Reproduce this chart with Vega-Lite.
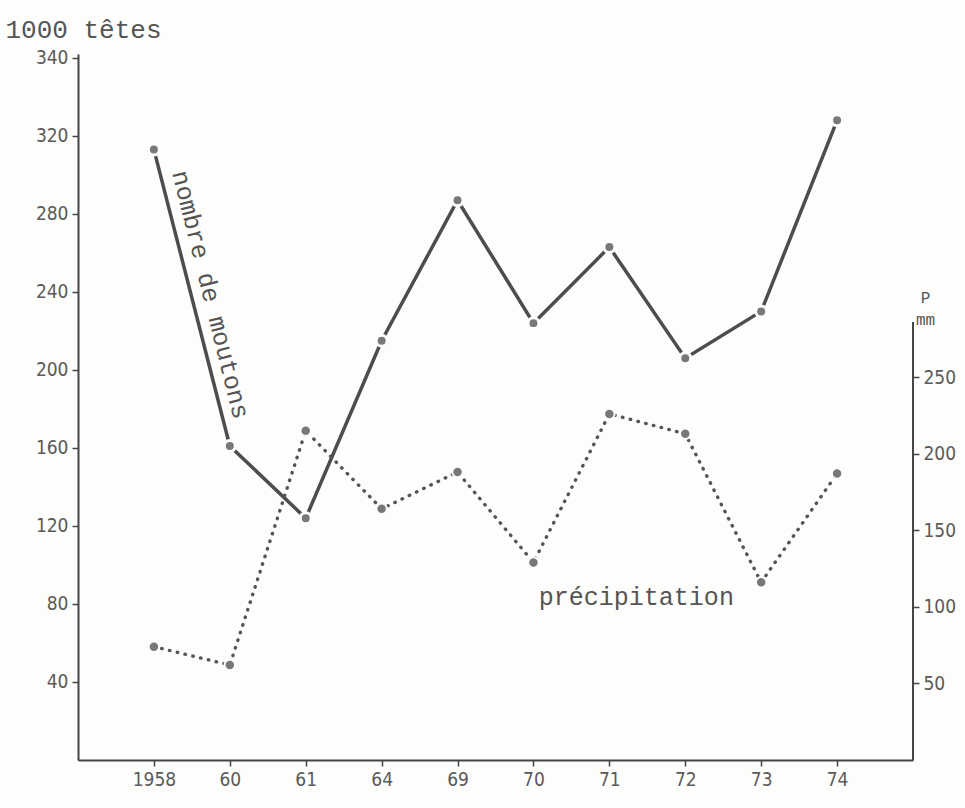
{
  "$schema": "https://vega.github.io/schema/vega-lite/v6.json",
  "width": 835,
  "height": 706,
  "autosize": {"type": "none"},
  "padding": {"left": 78, "top": 54, "right": 52, "bottom": 48},
  "background": "#fdfdfb",
  "config": {
    "view": {"stroke": null},
    "axis": {
      "grid": false,
      "domainColor": "#454545",
      "domainWidth": 2,
      "tickColor": "#454545",
      "tickWidth": 1.5,
      "labelFont": "Liberation Sans Narrow, DejaVu Sans Condensed, sans-serif",
      "labelFontSize": 19,
      "labelColor": "#5a5a5a",
      "titleFont": "Liberation Mono",
      "titleColor": "#555555",
      "titleFontWeight": "normal"
    }
  },
  "datasets": {
    "moutons": [
      {"annee": "1958", "moutons": 313},
      {"annee": "60", "moutons": 161},
      {"annee": "61", "moutons": 124},
      {"annee": "64", "moutons": 215},
      {"annee": "69", "moutons": 287},
      {"annee": "70", "moutons": 224},
      {"annee": "71", "moutons": 263},
      {"annee": "72", "moutons": 206},
      {"annee": "73", "moutons": 230},
      {"annee": "74", "moutons": 328}
    ],
    "precip": [
      {"annee": "1958", "precip": 74},
      {"annee": "60", "precip": 62},
      {"annee": "61", "precip": 215},
      {"annee": "64", "precip": 164},
      {"annee": "69", "precip": 188},
      {"annee": "70", "precip": 129},
      {"annee": "71", "precip": 226},
      {"annee": "72", "precip": 213},
      {"annee": "73", "precip": 116},
      {"annee": "74", "precip": 187}
    ]
  },
  "encoding": {
    "x": {
      "field": "annee",
      "type": "ordinal",
      "sort": null,
      "scale": {"type": "point", "padding": 1, "domain": ["1958", "60", "61", "64", "69", "70", "71", "72", "73", "74"]},
      "axis": {"title": null, "labelAngle": 0, "tickSize": 6, "labelPadding": 4}
    }
  },
  "layer": [
    {
      "layer": [
        {
          "data": {"name": "moutons"},
          "mark": {"type": "line", "stroke": "#4d4d4d", "strokeWidth": 3.5},
          "encoding": {
            "y": {
              "field": "moutons",
              "type": "quantitative",
              "scale": {"domain": [0, 362], "nice": false},
              "axis": {
                "orient": "left",
                "values": [40, 80, 120, 160, 200, 240, 280, 320, 360],
                "labelExpr": "datum.value == 360 ? '340' : datum.label",
                "tickSize": 6,
                "labelPadding": 4,
                "title": "1000 têtes",
                "titleAngle": 0,
                "titleAlign": "left",
                "titleBaseline": "alphabetic",
                "titleX": -73,
                "titleY": -17,
                "titleFontSize": 26
              }
            }
          }
        },
        {
          "data": {"name": "moutons"},
          "mark": {"type": "point", "filled": true, "fill": "#787878", "stroke": "#fdfdfb", "strokeWidth": 3, "size": 120, "opacity": 1},
          "encoding": {"y": {"field": "moutons", "type": "quantitative"}}
        },
        {
          "data": {"values": [{"annee": "1958", "moutons": 313, "label": "nombre de moutons"}]},
          "mark": {"type": "text", "angle": 76, "align": "left", "baseline": "alphabetic", "dx": 27, "dy": -12, "font": "Liberation Mono", "fontSize": 25, "color": "#555555"},
          "encoding": {"y": {"field": "moutons", "type": "quantitative"}, "text": {"field": "label"}}
        }
      ]
    },
    {
      "layer": [
        {
          "data": {"name": "precip"},
          "mark": {"type": "line", "stroke": "#555555", "strokeWidth": 3.4, "strokeDash": [0.5, 7.5], "strokeCap": "round"},
          "encoding": {
            "y": {
              "field": "precip",
              "type": "quantitative",
              "scale": {"domain": [0, 461], "nice": false},
              "axis": {
                "orient": "right",
                "domain": false,
                "values": [50, 100, 150, 200, 250],
                "tickSize": 6,
                "labelPadding": 4,
                "title": ["P", "mm"],
                "titleAngle": 0,
                "titleAlign": "center",
                "titleBaseline": "alphabetic",
                "titleX": 12,
                "titleY": 248,
                "titleFontSize": 16,
                "titleLineHeight": 22
              }
            }
          }
        },
        {
          "data": {"name": "precip"},
          "mark": {"type": "point", "filled": true, "fill": "#787878", "stroke": "#fdfdfb", "strokeWidth": 2, "size": 110, "opacity": 1},
          "encoding": {"y": {"field": "precip", "type": "quantitative"}}
        },
        {
          "data": {"values": [{"annee": "71", "precip": 101, "label": "précipitation"}]},
          "mark": {"type": "text", "align": "center", "baseline": "alphabetic", "dx": 27, "font": "Liberation Mono", "fontSize": 25, "color": "#555555"},
          "encoding": {"y": {"field": "precip", "type": "quantitative"}, "text": {"field": "label"}}
        },
        {
          "data": {"values": [{}]},
          "mark": {"type": "rule", "stroke": "#454545", "strokeWidth": 2},
          "encoding": {
            "x": {"value": "width"},
            "y": {"datum": 0, "type": "quantitative"},
            "y2": {"datum": 286}
          }
        }
      ]
    }
  ],
  "resolve": {"scale": {"y": "independent"}}
}
